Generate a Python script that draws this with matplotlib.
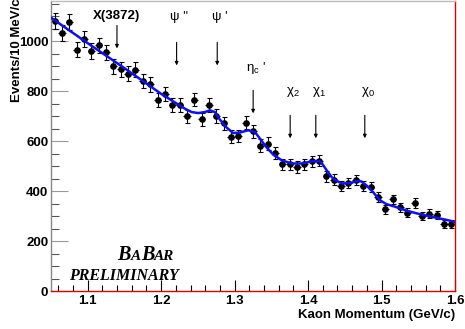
import matplotlib
matplotlib.use("Agg")
import matplotlib.pyplot as plt
import numpy as np
from matplotlib.offsetbox import TextArea, HPacker, AnnotationBbox
from matplotlib.ticker import MultipleLocator

plt.rcParams['font.family'] = ['Liberation Sans', 'DejaVu Sans']
plt.rcParams['mathtext.default'] = 'regular'

# kaon momentum bins (10 MeV wide), bin centres in GeV/c
bin_lo = 1.05
bin_width = 0.01
counts = [1081, 1033, 1077, 967, 1011, 961, 984, 956, 901, 889,
          871, 887, 841, 828, 764, 788, 745, 745, 700, 767,
          688, 745, 701, 673, 619, 620, 675, 640, 583, 591,
          552, 508, 508, 497, 508, 520, 522, 460, 446, 421,
          432, 444, 420, 417, 376, 327, 367, 336, 313, 352,
          300, 310, 305, 268, 270]

# fit curve
fit_x = [1.050, 1.100, 1.150, 1.200, 1.232, 1.2414, 1.2504, 1.2595, 1.2663,
         1.2731, 1.2799, 1.289, 1.298, 1.3071, 1.3184, 1.3276, 1.3344, 1.3435,
         1.3525, 1.3639, 1.3775, 1.3911, 1.4047, 1.4137, 1.418, 1.425, 1.432,
         1.4364, 1.4455, 1.4568, 1.4659, 1.4727, 1.4795, 1.4885, 1.4976,
         1.5067, 1.5203, 1.5339, 1.552, 1.5701, 1.5884, 1.600]
fit_y = [1095, 993, 893, 790, 731, 717, 713, 717, 724,
         717, 687, 655, 633, 635, 644, 637, 611, 575,
         547, 524, 511, 511, 519, 522, 515, 485, 457,
         446, 431, 432, 440, 439, 423, 396, 364,
         348, 336, 322, 308, 296, 285, 277]

# charmonium states marked with arrows: label, momentum
states = ["X(3872)", "ψ ''", "ψ '", r"$\eta_c$ '", r"$\chi_2$", r"$\chi_1$", r"$\chi_0$"]
state_p = [1.1398, 1.221, 1.2763, 1.3252, 1.3756, 1.4105, 1.4772]

x = bin_lo + bin_width * (np.arange(len(counts)) + 0.5)
y = np.array(counts, dtype=float)
yerr = np.sqrt(y)

fig = plt.figure(figsize=(4.65, 3.29), dpi=100)
ax = fig.add_axes([51 / 465, 1 - 291 / 329, 404 / 465, 290 / 329])

# data points with error bars
ax.errorbar(x, y, xerr=bin_width / 2, fmt='none', ecolor='black', elinewidth=0.8, capsize=0)
ax.errorbar(x, y, yerr=yerr, fmt='o', color='black', ms=3.8, ecolor='black',
            elinewidth=0.8, capsize=1.8, capthick=0.8)

# fit
ax.plot(fit_x, fit_y, color='#1010ee', lw=1.8, zorder=3)

# arrows and labels
label_y = [1100, 1096, 1096, 892, 796, 796, 796]
arrow_top = [1064, 996, 996, 804, 704, 704, 704]
arrow_len = 92
for name, p, ly, at in zip(states, state_p, label_y, arrow_top):
    ax.annotate('', xy=(p, at - arrow_len), xytext=(p, at),
                arrowprops=dict(arrowstyle='-|>', color='black', lw=0.8,
                                mutation_scale=5, shrinkA=0, shrinkB=0))
    if name.startswith('X'):
        ax.text(p, ly, name, ha='center', va='center', fontsize=9.5, fontweight='bold')
    else:
        ax.text(p + 0.004, ly, name, ha='center', va='center', fontsize=9.5)

# BaBar logo
serif = dict(family='Liberation Serif', weight='bold', style='italic')
parts = [("B", 14.5), ("A", 11), ("B", 14.5), ("AR", 11)]
boxes = [TextArea(s, textprops=dict(fontsize=fs, **serif)) for s, fs in parts]
logo = HPacker(children=boxes, align='baseline', pad=0, sep=0)
ab = AnnotationBbox(logo, (0.235, 0.09), xycoords='axes fraction',
                    box_alignment=(0.5, 0.0), frameon=False)
ax.add_artist(ab)
ax.text(0.045, 0.038, "PRELIMINARY", transform=ax.transAxes, fontsize=11.5,
        ha='left', va='baseline', **serif)

# axes styling
ax.set_xlim(1.05, 1.6)
ax.set_ylim(0, 1162)
ax.xaxis.set_major_locator(MultipleLocator(0.1))
ax.xaxis.set_minor_locator(MultipleLocator(0.02))
ax.yaxis.set_major_locator(MultipleLocator(200))
ax.yaxis.set_minor_locator(MultipleLocator(50))
ax.set_xticks([1.1, 1.2, 1.3, 1.4, 1.5, 1.6])
ax.set_xticklabels(['1.1', '1.2', '1.3', '1.4', '1.5', '1.6'])
ax.tick_params(axis='x', which='major', direction='in', length=8, width=0.8,
               color='black', labelsize=9.5, pad=3)
ax.tick_params(axis='x', which='minor', direction='in', length=4, width=0.8, color='black')
ax.tick_params(axis='y', which='major', direction='in', length=12, width=0.8,
               color='#999999', labelsize=9.5, pad=2)
ax.tick_params(axis='y', which='minor', direction='in', length=6, width=0.8, color='#555555')
for lab in ax.get_xticklabels() + ax.get_yticklabels():
    lab.set_fontweight('bold')

ax.spines['left'].set_color('#888888')
ax.spines['top'].set_color('#bbbbbb')
ax.spines['bottom'].set_color('#dd0000')
ax.spines['right'].set_color('#dd0000')
for s in ax.spines.values():
    s.set_linewidth(1.0)

ax.set_xlabel("Kaon Momentum (GeV/c)", fontsize=9.5, fontweight='bold', loc='right', labelpad=1)
fig.text(17 / 465, 1.005, "Events/10 MeV/c", rotation=90, ha='center', va='top',
         fontsize=9.5, fontweight='bold')

fig.savefig('out.png', dpi=100)
